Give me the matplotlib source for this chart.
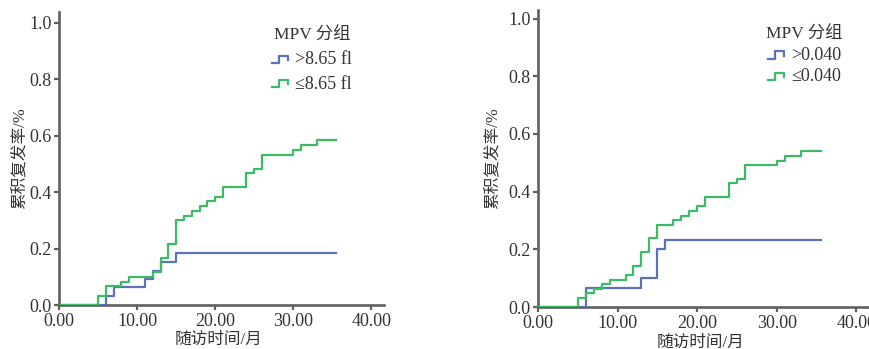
import matplotlib
matplotlib.use('Agg')
import matplotlib.pyplot as plt
from matplotlib.lines import Line2D
from matplotlib.legend_handler import HandlerLine2D

plt.rcParams['font.family'] = ['Liberation Serif', 'Noto Sans CJK SC', 'DejaVu Sans']

# ---- data (months, cumulative recurrence) ----
left_blue_t = [0, 6, 7, 11, 12, 13, 15, 35.5]
left_blue_y = [0, 0.033, 0.063, 0.093, 0.122, 0.153, 0.183, 0.183]
left_green_t = [0, 5, 6, 8, 9, 12, 13, 14, 15, 16, 17, 18, 19, 20, 21, 24, 25, 26, 30, 31, 33, 35.5]
left_green_y = [0, 0.033, 0.067, 0.083, 0.100, 0.117, 0.167, 0.216, 0.300, 0.317, 0.333, 0.350,
                0.367, 0.383, 0.417, 0.467, 0.483, 0.533, 0.550, 0.567, 0.583, 0.583]
left_labels = ['>8.65 fl', '≤8.65 fl']

right_blue_t = [0, 6, 13, 15, 16, 35.6]
right_blue_y = [0, 0.067, 0.100, 0.200, 0.233, 0.233]
right_green_t = [0, 5, 6, 7, 8, 9, 11, 12, 13, 14, 15, 17, 18, 19, 20, 21, 24, 25, 26, 30, 31, 33, 35.6]
right_green_y = [0, 0.031, 0.047, 0.063, 0.079, 0.095, 0.111, 0.143, 0.190, 0.238, 0.286, 0.302,
                 0.317, 0.333, 0.349, 0.381, 0.429, 0.444, 0.492, 0.508, 0.524, 0.540, 0.540]
right_labels = ['>0.040', '≤0.040']

legend_title = 'MPV 分组'
xlabel = '随访时间/月'
ylabel = '累积复发率/%'
xticks = [0, 10, 20, 30, 40]
yticks = [0.0, 0.2, 0.4, 0.6, 0.8, 1.0]

BLUE = '#5a72b8'
GREEN = '#3dba66'
AXC = '#5f6062'
TXC = '#333333'


class StepHandler(HandlerLine2D):
    def create_artists(self, legend, orig_handle, xdescent, ydescent, width, height, fontsize, trans):
        x0 = -xdescent
        y0 = -ydescent
        w, h = width, height
        xs = [x0, x0 + 0.38 * w, x0 + 0.38 * w, x0 + 0.85 * w, x0 + 0.85 * w]
        ys = [y0 + 0.1 * h, y0 + 0.1 * h, y0 + 0.7 * h, y0 + 0.7 * h, y0 + 0.35 * h]
        ln = Line2D(xs, ys, color=orig_handle.get_color(), lw=orig_handle.get_linewidth())
        ln.set_transform(trans)
        return [ln]


fig = plt.figure(figsize=(8.69, 3.49), dpi=100)
axL = fig.add_axes([59 / 869, 1 - 305 / 349, 325 / 869, 293 / 349])
axR = fig.add_axes([538 / 869, 1 - 307 / 349, 331 / 869, 297 / 349])

panels = [
    (axL, left_blue_t, left_blue_y, left_green_t, left_green_y, left_labels, 1.038, 0.655, 0.945, -0.12, 0.40),
    (axR, right_blue_t, right_blue_y, right_green_t, right_green_y, right_labels, 1.03, 0.69, 0.945, -0.136, 0.25),
]

FS = 13

for ax, bt, by, gt, gy, labels, ytop, lgx, lgy, ylx, lsp in panels:
    hb, = ax.step(bt, by, where='post', color=BLUE, lw=1.6, label=labels[0], zorder=3)
    hg, = ax.step(gt, gy, where='post', color=GREEN, lw=1.6, label=labels[1], zorder=3)
    ax.set_xlim(0, 41.6)
    ax.set_ylim(0, ytop)
    ax.set_xticks(xticks)
    ax.set_xticklabels([f'{v:.2f}' for v in xticks])
    ax.set_yticks(yticks)
    ax.set_yticklabels([f'{v:.1f}' for v in yticks])
    for s in ['top', 'right']:
        ax.spines[s].set_visible(False)
    for s in ['left', 'bottom']:
        ax.spines[s].set_color(AXC)
        ax.spines[s].set_linewidth(1.9)
    ax.tick_params(direction='out', length=3.5, width=1.6, color=AXC,
                   labelsize=FS, labelcolor=TXC, pad=2)
    ax.set_xlabel(xlabel, fontsize=12, color=TXC, va='center')
    ax.xaxis.set_label_coords(0.49, -0.12)
    ax.set_ylabel(ylabel, fontsize=12, color=TXC, va='center')
    ax.yaxis.set_label_coords(ylx, 0.5)
    leg = ax.legend(handles=[hb, hg], title=legend_title, loc='upper left',
                    bbox_to_anchor=(lgx, lgy), frameon=False, fontsize=FS,
                    title_fontsize=12.5, handlelength=1.05, handletextpad=0.25,
                    labelspacing=lsp, borderpad=0, borderaxespad=0,
                    handler_map={Line2D: StepHandler()})
    for t in leg.get_texts():
        t.set_color(TXC)
    leg.get_title().set_color(TXC)

fig.savefig('out.png', dpi=100)
